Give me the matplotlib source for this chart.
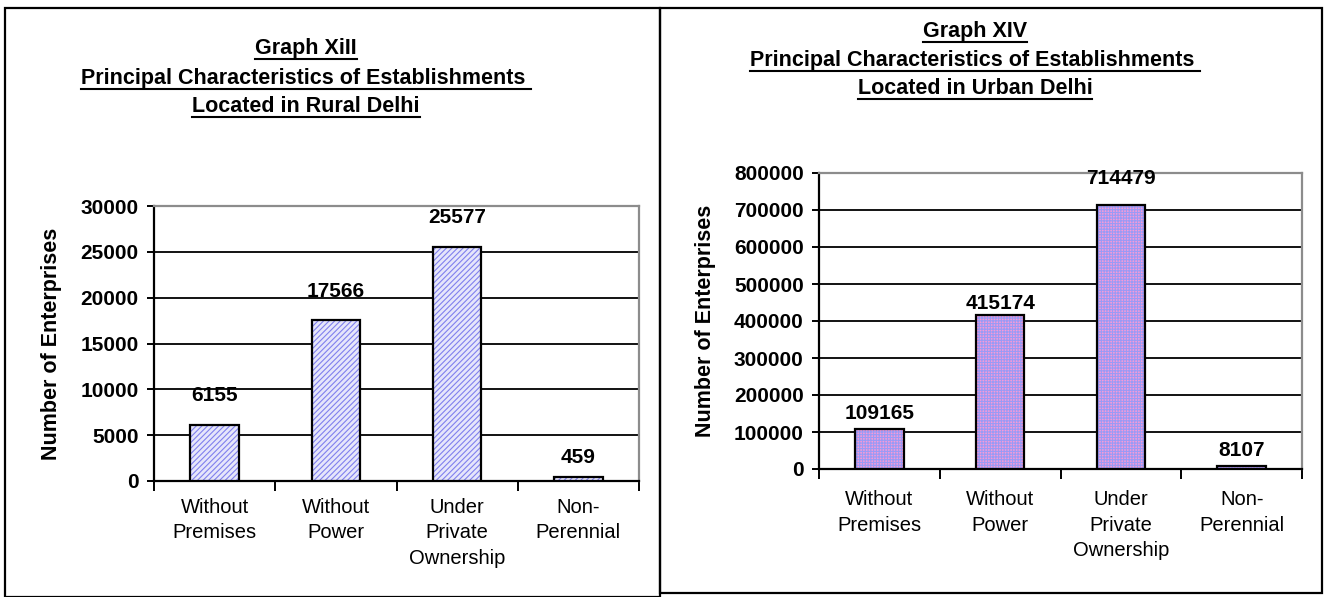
import matplotlib.pyplot as plt
from matplotlib.patches import Rectangle
from matplotlib.lines import Line2D

plt.rcParams["font.family"] = ["Liberation Sans", "DejaVu Sans"]
plt.rcParams["hatch.linewidth"] = 0.8

# data
categories = ["Without\nPremises", "Without\nPower", "Under\nPrivate\nOwnership", "Non-\nPerennial"]
rural_values = [6155, 17566, 25577, 459]
urban_values = [109165, 415174, 714479, 8107]

rural_title = ["Graph XiII", "Principal Characteristics of Establishments ", "Located in Rural Delhi"]
urban_title = ["Graph XIV", "Principal Characteristics of Establishments ", "Located in Urban Delhi"]
ylabel = "Number of Enterprises"

W, H = 1325, 597
fig = plt.figure(figsize=(W / 100, H / 100), dpi=100)
fig.patch.set_facecolor("white")

# panel frames
fig.add_artist(Rectangle((5 / W, 0), 655 / W, 1 - 8 / H, transform=fig.transFigure,
                         fill=False, edgecolor="black", lw=1.6))
fig.add_artist(Rectangle((660 / W, 4 / H), 662 / W, 1 - 12 / H, transform=fig.transFigure,
                         fill=False, edgecolor="black", lw=1.6))


def draw_panel(rect, values, ymax, step, face, hatch, hcolor, pads, xpad, ylab_x):
    ax = fig.add_axes(rect)
    x = list(range(len(values)))
    # fill + hatch, then black outline on top
    ax.bar(x, values, width=0.4, color=face, hatch=hatch, edgecolor=hcolor, linewidth=0, zorder=3)
    ax.bar(x, values, width=0.4, fill=False, edgecolor="black", linewidth=1.6, zorder=4)
    ax.set_xlim(-0.5, len(values) - 0.5)
    ax.set_ylim(0, ymax)
    ax.set_yticks(range(0, ymax + 1, step))
    ax.yaxis.grid(True, color="black", lw=1.3, zorder=0)
    ax.set_axisbelow(True)
    for s in ["top", "right"]:
        ax.spines[s].set_color("#8c8c8c")
        ax.spines[s].set_linewidth(1.6)
    ax.spines["left"].set_linewidth(1.6)
    ax.spines["bottom"].set_linewidth(1.6)
    ax.tick_params(axis="y", length=5, width=1.4, pad=6, labelsize=15)
    for t in ax.get_yticklabels():
        t.set_fontweight("bold")
    ax.set_xticks(x)
    ax.set_xticklabels(categories, fontsize=14.5, linespacing=1.45, va="top")
    ax.tick_params(axis="x", which="major", length=0, pad=xpad)
    ax.set_xticks([i - 0.5 for i in range(len(values) + 1)], minor=True)
    ax.tick_params(axis="x", which="minor", length=7, width=1.4)
    ax.set_ylabel(ylabel, fontsize=15.5, fontweight="bold")
    ax.yaxis.set_label_coords(ylab_x, 0.5)
    for xi, v, p in zip(x, values, pads):
        ax.annotate(str(v), (xi, v), xytext=(0, p), textcoords="offset points",
                    ha="center", va="bottom", fontsize=15, fontweight="bold", zorder=5)
    return ax


draw_panel([154 / W, 1 - 481 / H, 485 / W, 275 / H], rural_values, 30000, 5000,
           "#e6e6fb", "//////", "#8080ee", [14, 14, 14, 7], 12, -0.19)
draw_panel([819 / W, 1 - 469 / H, 483 / W, 296 / H], urban_values, 800000, 100000,
           "#f79ad6", "++++++", "#9a9af5", [4, 2, 12, 4], 15, -0.213)


def title(lines, cx, baselines):
    texts = []
    for s, b in zip(lines, baselines):
        t = fig.text(cx / W, 1 - b / H, s, ha="center", va="baseline",
                     fontsize=15.5, fontweight="bold")
        texts.append((t, b))
    return texts


titles = title(rural_title, 306, [54, 84, 112]) + title(urban_title, 975, [37, 66, 94])
fig.canvas.draw()
r = fig.canvas.get_renderer()
for t, b in titles:
    bb = t.get_window_extent(r)
    y = 1 - (b + 5) / H
    fig.add_artist(Line2D([bb.x0 / W, bb.x1 / W], [y, y], transform=fig.transFigure,
                          color="black", lw=1.5))

fig.savefig("out.png", dpi=100)
